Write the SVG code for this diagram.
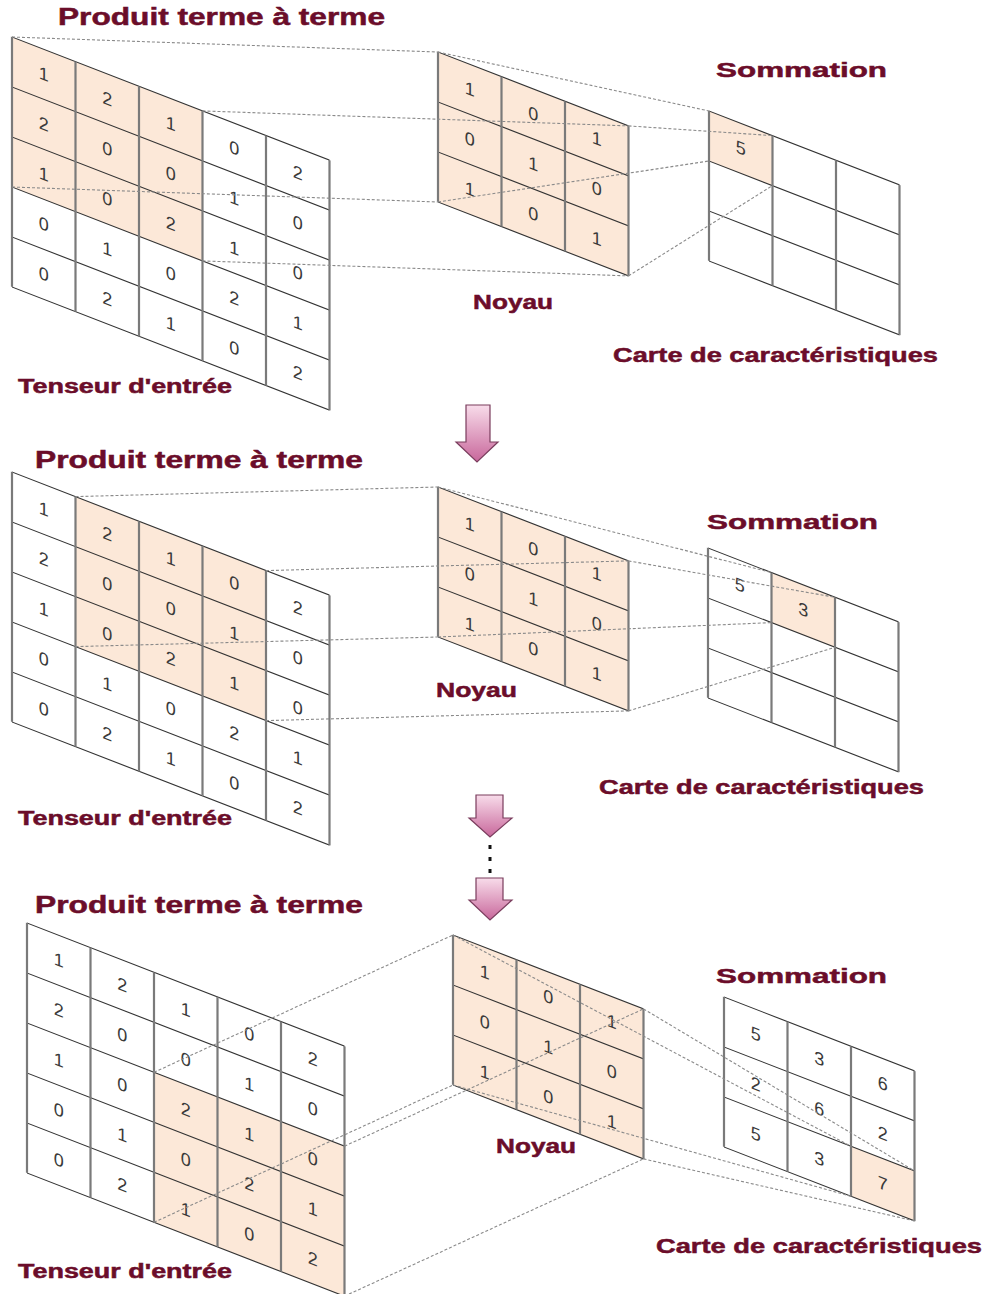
<svg xmlns="http://www.w3.org/2000/svg" width="988" height="1294" viewBox="0 0 988 1294">
<defs>
<style>
.hl{stroke:#333;stroke-width:1.2;fill:none}
.vl{stroke:#7a7a7a;stroke-width:2.2;fill:none}
.c{fill:#fce8d8}
.d{font-family:"Liberation Sans",Arial,sans-serif;font-size:18px;fill:#3a3a3a;text-anchor:middle}
.lbl{font-family:"Liberation Sans",Arial,sans-serif;font-weight:bold;fill:#6b0d2a;stroke:#6b0d2a;stroke-width:0.5}
.cn{stroke:#8a8a8a;stroke-width:1.1;stroke-dasharray:3 2;fill:none}
.arr{fill:url(#pg);stroke:#7a3d5d;stroke-width:1.2}
</style>
<linearGradient id="pg" x1="0" y1="0" x2="0" y2="1">
<stop offset="0" stop-color="#f8dcea"/>
<stop offset="1" stop-color="#c8679b"/>
</linearGradient>
<path id="g5h" d="M0 0H317.5M0 50H317.5M0 100H317.5M0 150H317.5M0 200H317.5M0 250H317.5"/>
<path id="g5v" d="M0 0V250M63.5 0V250M127 0V250M190.5 0V250M254 0V250M317.5 0V250"/>
<path id="g3h" d="M0 0H190.5M0 50H190.5M0 100H190.5M0 150H190.5"/>
<path id="g3v" d="M0 0V150M63.5 0V150M127 0V150M190.5 0V150"/>
</defs>
<rect width="988" height="1294" fill="#fff"/>

<!-- ===== Panel 1 ===== -->
<g id="input-1" transform="matrix(1,0.388,0,1,12,37)">
<rect class="c" x="0" y="0" width="190.5" height="150"/>
<use href="#g5h" class="hl"/><use href="#g5v" class="vl"/>
<text class="d" x="31.75" y="31">1</text><text class="d" x="95.25" y="31">2</text><text class="d" x="158.75" y="31">1</text><text class="d" x="222.25" y="31">0</text><text class="d" x="285.75" y="31">2</text>
<text class="d" x="31.75" y="81">2</text><text class="d" x="95.25" y="81">0</text><text class="d" x="158.75" y="81">0</text><text class="d" x="222.25" y="81">1</text><text class="d" x="285.75" y="81">0</text>
<text class="d" x="31.75" y="131">1</text><text class="d" x="95.25" y="131">0</text><text class="d" x="158.75" y="131">2</text><text class="d" x="222.25" y="131">1</text><text class="d" x="285.75" y="131">0</text>
<text class="d" x="31.75" y="181">0</text><text class="d" x="95.25" y="181">1</text><text class="d" x="158.75" y="181">0</text><text class="d" x="222.25" y="181">2</text><text class="d" x="285.75" y="181">1</text>
<text class="d" x="31.75" y="231">0</text><text class="d" x="95.25" y="231">2</text><text class="d" x="158.75" y="231">1</text><text class="d" x="222.25" y="231">0</text><text class="d" x="285.75" y="231">2</text>
</g>
<g id="kernel-1" transform="matrix(1,0.388,0,1,438,52)">
<rect class="c" x="0" y="0" width="190.5" height="150"/>
<use href="#g3h" class="hl"/><use href="#g3v" class="vl"/>
<text class="d" x="31.75" y="31">1</text><text class="d" x="95.25" y="31">0</text><text class="d" x="158.75" y="31">1</text>
<text class="d" x="31.75" y="81">0</text><text class="d" x="95.25" y="81">1</text><text class="d" x="158.75" y="81">0</text>
<text class="d" x="31.75" y="131">1</text><text class="d" x="95.25" y="131">0</text><text class="d" x="158.75" y="131">1</text>
</g>
<g id="fmap-1" transform="matrix(1,0.388,0,1,709,111)">
<rect class="c" x="0" y="0" width="63.5" height="50"/>
<use href="#g3h" class="hl"/><use href="#g3v" class="vl"/>
<text class="d" x="31.75" y="31">5</text>
</g>

<!-- ===== Panel 2 ===== -->
<g id="input-2" transform="matrix(1,0.388,0,1,12,472)">
<rect class="c" x="63.5" y="0" width="190.5" height="150"/>
<use href="#g5h" class="hl"/><use href="#g5v" class="vl"/>
<text class="d" x="31.75" y="31">1</text><text class="d" x="95.25" y="31">2</text><text class="d" x="158.75" y="31">1</text><text class="d" x="222.25" y="31">0</text><text class="d" x="285.75" y="31">2</text>
<text class="d" x="31.75" y="81">2</text><text class="d" x="95.25" y="81">0</text><text class="d" x="158.75" y="81">0</text><text class="d" x="222.25" y="81">1</text><text class="d" x="285.75" y="81">0</text>
<text class="d" x="31.75" y="131">1</text><text class="d" x="95.25" y="131">0</text><text class="d" x="158.75" y="131">2</text><text class="d" x="222.25" y="131">1</text><text class="d" x="285.75" y="131">0</text>
<text class="d" x="31.75" y="181">0</text><text class="d" x="95.25" y="181">1</text><text class="d" x="158.75" y="181">0</text><text class="d" x="222.25" y="181">2</text><text class="d" x="285.75" y="181">1</text>
<text class="d" x="31.75" y="231">0</text><text class="d" x="95.25" y="231">2</text><text class="d" x="158.75" y="231">1</text><text class="d" x="222.25" y="231">0</text><text class="d" x="285.75" y="231">2</text>
</g>
<g id="kernel-2" transform="matrix(1,0.388,0,1,438,487)">
<rect class="c" x="0" y="0" width="190.5" height="150"/>
<use href="#g3h" class="hl"/><use href="#g3v" class="vl"/>
<text class="d" x="31.75" y="31">1</text><text class="d" x="95.25" y="31">0</text><text class="d" x="158.75" y="31">1</text>
<text class="d" x="31.75" y="81">0</text><text class="d" x="95.25" y="81">1</text><text class="d" x="158.75" y="81">0</text>
<text class="d" x="31.75" y="131">1</text><text class="d" x="95.25" y="131">0</text><text class="d" x="158.75" y="131">1</text>
</g>
<g id="fmap-2" transform="matrix(1,0.388,0,1,708,548)">
<rect class="c" x="63.5" y="0" width="63.5" height="50"/>
<use href="#g3h" class="hl"/><use href="#g3v" class="vl"/>
<text class="d" x="31.75" y="31">5</text><text class="d" x="95.25" y="31">3</text>
</g>

<!-- ===== Panel 3 ===== -->
<g id="input-3" transform="matrix(1,0.388,0,1,27,923)">
<rect class="c" x="127" y="100" width="190.5" height="150"/>
<use href="#g5h" class="hl"/><use href="#g5v" class="vl"/>
<text class="d" x="31.75" y="31">1</text><text class="d" x="95.25" y="31">2</text><text class="d" x="158.75" y="31">1</text><text class="d" x="222.25" y="31">0</text><text class="d" x="285.75" y="31">2</text>
<text class="d" x="31.75" y="81">2</text><text class="d" x="95.25" y="81">0</text><text class="d" x="158.75" y="81">0</text><text class="d" x="222.25" y="81">1</text><text class="d" x="285.75" y="81">0</text>
<text class="d" x="31.75" y="131">1</text><text class="d" x="95.25" y="131">0</text><text class="d" x="158.75" y="131">2</text><text class="d" x="222.25" y="131">1</text><text class="d" x="285.75" y="131">0</text>
<text class="d" x="31.75" y="181">0</text><text class="d" x="95.25" y="181">1</text><text class="d" x="158.75" y="181">0</text><text class="d" x="222.25" y="181">2</text><text class="d" x="285.75" y="181">1</text>
<text class="d" x="31.75" y="231">0</text><text class="d" x="95.25" y="231">2</text><text class="d" x="158.75" y="231">1</text><text class="d" x="222.25" y="231">0</text><text class="d" x="285.75" y="231">2</text>
</g>
<g id="kernel-3" transform="matrix(1,0.388,0,1,453,935)">
<rect class="c" x="0" y="0" width="190.5" height="150"/>
<use href="#g3h" class="hl"/><use href="#g3v" class="vl"/>
<text class="d" x="31.75" y="31">1</text><text class="d" x="95.25" y="31">0</text><text class="d" x="158.75" y="31">1</text>
<text class="d" x="31.75" y="81">0</text><text class="d" x="95.25" y="81">1</text><text class="d" x="158.75" y="81">0</text>
<text class="d" x="31.75" y="131">1</text><text class="d" x="95.25" y="131">0</text><text class="d" x="158.75" y="131">1</text>
</g>
<g id="fmap-3" transform="matrix(1,0.388,0,1,724,997)">
<rect class="c" x="127" y="100" width="63.5" height="50"/>
<use href="#g3h" class="hl"/><use href="#g3v" class="vl"/>
<text class="d" x="31.75" y="31">5</text><text class="d" x="95.25" y="31">3</text><text class="d" x="158.75" y="31">6</text>
<text class="d" x="31.75" y="81">2</text><text class="d" x="95.25" y="81">6</text><text class="d" x="158.75" y="81">2</text>
<text class="d" x="31.75" y="131">5</text><text class="d" x="95.25" y="131">3</text><text class="d" x="158.75" y="131">7</text>
</g>

<!-- ===== Connectors ===== -->
<g id="connectors" class="cn">
<path d="M12 37L438 52M438 52L709 111M202.5 110.9L628.5 125.9M628.5 125.9L772.5 135.6M12 187L438 202M438 202L709 161M202.5 260.9L628.5 275.9M628.5 275.9L772.5 185.6"/>
<path d="M75.5 496.6L438 487M438 487L771.5 572.6M266 570.6L628.5 560.9M628.5 560.9L835 597.3M75.5 646.6L438 637M438 637L771.5 622.6M266 720.6L628.5 710.9M628.5 710.9L835 647.3"/>
<path d="M154 1072.3L453 935M344.5 1146.2L643.5 1008.9M154 1222.3L453 1085M344.5 1296.2L643.5 1158.9M453 935L851 1146.3M643.5 1008.9L914.5 1170.9M453 1085L851 1196.3M643.5 1158.9L914.5 1220.9"/>
</g>

<!-- ===== Arrows ===== -->
<g id="arrows">
<path class="arr" d="M466 405H490V442H498L477 462L456 442H466Z"/>
<path class="arr" d="M476 795H503V818H512L490 837L469 818H476Z"/>
<rect x="488.5" y="845" width="3" height="4" fill="#111"/>
<rect x="488.5" y="857" width="3" height="4" fill="#111"/>
<rect x="488.5" y="869" width="3" height="4" fill="#111"/>
<path class="arr" d="M476 878H503V900H512L490 920L469 900H476Z"/>
</g>

<!-- ===== Labels ===== -->
<g id="labels" class="lbl">
<text x="58" y="25" font-size="23" textLength="327" lengthAdjust="spacingAndGlyphs">Produit terme à terme</text>
<text x="716" y="77" font-size="21" textLength="171" lengthAdjust="spacingAndGlyphs">Sommation</text>
<text x="473" y="309" font-size="20" textLength="80" lengthAdjust="spacingAndGlyphs">Noyau</text>
<text x="613" y="362" font-size="21" textLength="325" lengthAdjust="spacingAndGlyphs">Carte de caractéristiques</text>
<text x="18" y="393" font-size="20" textLength="214" lengthAdjust="spacingAndGlyphs">Tenseur d'entrée</text>

<text x="35" y="468" font-size="23" textLength="328" lengthAdjust="spacingAndGlyphs">Produit terme à terme</text>
<text x="707" y="529" font-size="21" textLength="171" lengthAdjust="spacingAndGlyphs">Sommation</text>
<text x="436" y="697" font-size="20" textLength="81" lengthAdjust="spacingAndGlyphs">Noyau</text>
<text x="599" y="794" font-size="21" textLength="325" lengthAdjust="spacingAndGlyphs">Carte de caractéristiques</text>
<text x="18" y="825" font-size="20" textLength="214" lengthAdjust="spacingAndGlyphs">Tenseur d'entrée</text>

<text x="35" y="913" font-size="23" textLength="328" lengthAdjust="spacingAndGlyphs">Produit terme à terme</text>
<text x="716" y="983" font-size="21" textLength="171" lengthAdjust="spacingAndGlyphs">Sommation</text>
<text x="496" y="1153" font-size="20" textLength="80" lengthAdjust="spacingAndGlyphs">Noyau</text>
<text x="656" y="1253" font-size="21" textLength="326" lengthAdjust="spacingAndGlyphs">Carte de caractéristiques</text>
<text x="18" y="1278" font-size="20" textLength="214" lengthAdjust="spacingAndGlyphs">Tenseur d'entrée</text>
</g>
</svg>
